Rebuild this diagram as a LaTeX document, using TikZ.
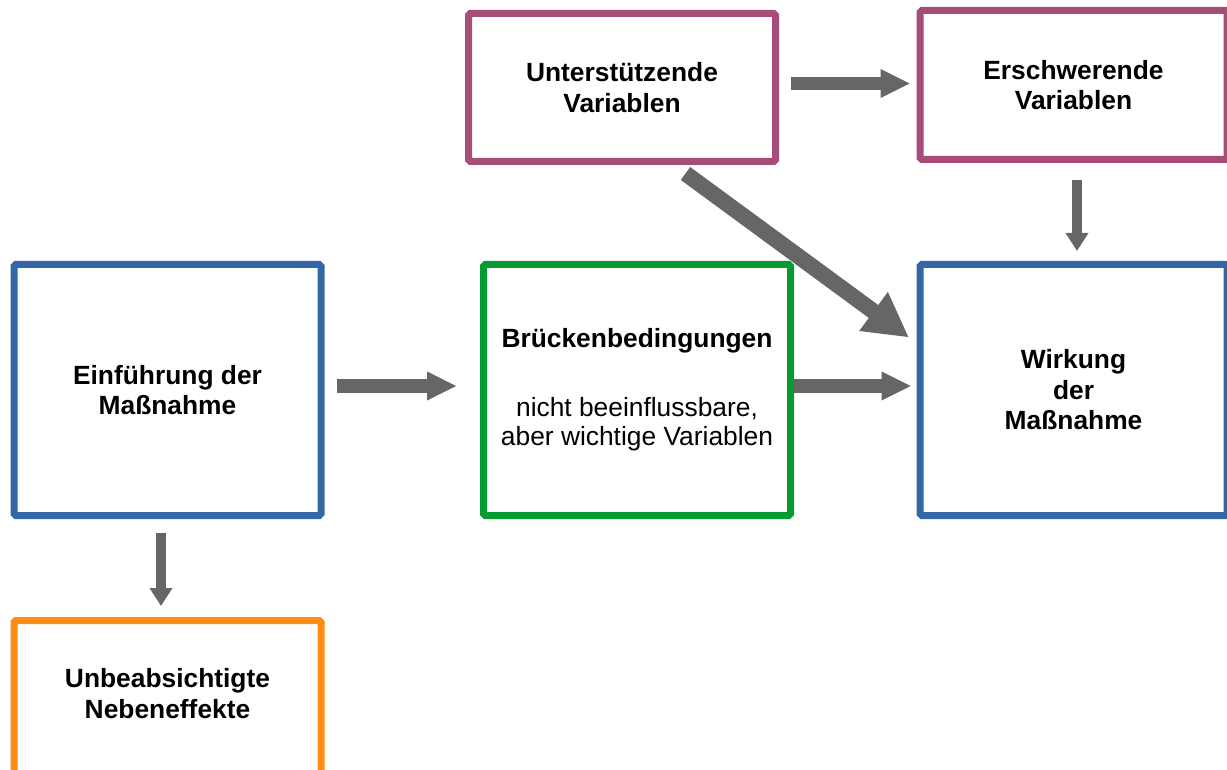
\documentclass[tikz,border=0pt]{standalone}
\usepackage{fontspec}
\setmainfont{Liberation Sans}
\usetikzlibrary{calc,arrows.meta}
\definecolor{kastenlila}{HTML}{A64D79}
\definecolor{kastenblau}{HTML}{3566A6}
\definecolor{kastengruen}{HTML}{069B30}
\definecolor{kastenorange}{HTML}{FF8A16}
\definecolor{pfeilgrau}{HTML}{666666}
\tikzset{
	kasten/.style={draw, line width=0.14cm, rounded corners=1pt, inner sep=0pt,
		minimum width=6.14cm, align=center,
		font=\fontsize{15pt}{17.4pt}\selectfont\bfseries},
	pfeil/.style={color=pfeilgrau, line width=0.266cm,
		-{Triangle[width=0.534cm, length=0.6cm]}},
	pfeilschmal/.style={color=pfeilgrau, line width=0.206cm,
		-{Triangle[width=0.434cm, length=0.36cm]}},
	pfeildick/.style={color=pfeilgrau, line width=0.32cm,
		-{Triangle[width=0.9cm, length=0.88cm]}}
}

\begin{document}
\begin{tikzpicture}
		%%%%% START %%%%%
		\useasboundingbox (0, 0) rectangle (24.54, 15.38);
		
		\node[kasten, draw=kastenlila, minimum height=2.96cm] (unt) at (12.44, 13.63) {Unterstützende\\Variablen};
		\node[kasten, draw=kastenlila, minimum height=2.98cm] (ersch) at (21.47, 13.68) {Erschwerende\\Variablen};
		
		\node[kasten, draw=kastenblau, minimum height=5.02cm] (einf) at (3.35, 7.58) {Einführung der\\Maßnahme};
		\node[kasten, draw=kastengruen, minimum height=5.02cm, font=\fontsize{15pt}{16.5pt}\selectfont] (brueck) at (12.74, 7.58) {\textbf{Brückenbedingungen}\\[0.8cm]nicht beeinflussbare,\\aber wichtige Variablen};
		\node[kasten, draw=kastenblau, minimum height=5.02cm] (wirk) at (21.47, 7.58) {Wirkung\\der\\Maßnahme};
		
		\node[kasten, draw=kastenorange, minimum height=3.10cm, text depth=0.18cm] (unbeab) at (3.35, 1.42) {Unbeabsichtigte\\Nebeneffekte};
		
		\draw[pfeil, shorten <=0.23cm, shorten >=0.12cm] ([yshift=0.08cm]unt.east) -- ([yshift=0.08cm]unt.east -| ersch.west);
		\draw[pfeilschmal, shorten <=0.34cm, shorten >=0.2cm] ([xshift=0.07cm]ersch.south) -- ([xshift=0.07cm]ersch.south |- wirk.north);
		\draw[pfeildick] ($(unt.south)+(1.27, -0.17)$) -- ($(wirk.north west)+(-0.15, -1.53)$);
		
		\draw[pfeil, shorten <=0.24cm, shorten >=0.46cm] ([yshift=0.08cm]einf.east) -- ([yshift=0.08cm]brueck.west);
		\draw[pfeil, shorten >=0.1cm] ([yshift=0.08cm]brueck.east) -- ([yshift=0.08cm]wirk.west);
		\draw[pfeilschmal, shorten <=0.27cm, shorten >=0.22cm] ([xshift=-0.13cm]einf.south) -- ([xshift=-0.13cm]unbeab.north);
		
		%%%%% END %%%%%
\end{tikzpicture}
\end{document}
